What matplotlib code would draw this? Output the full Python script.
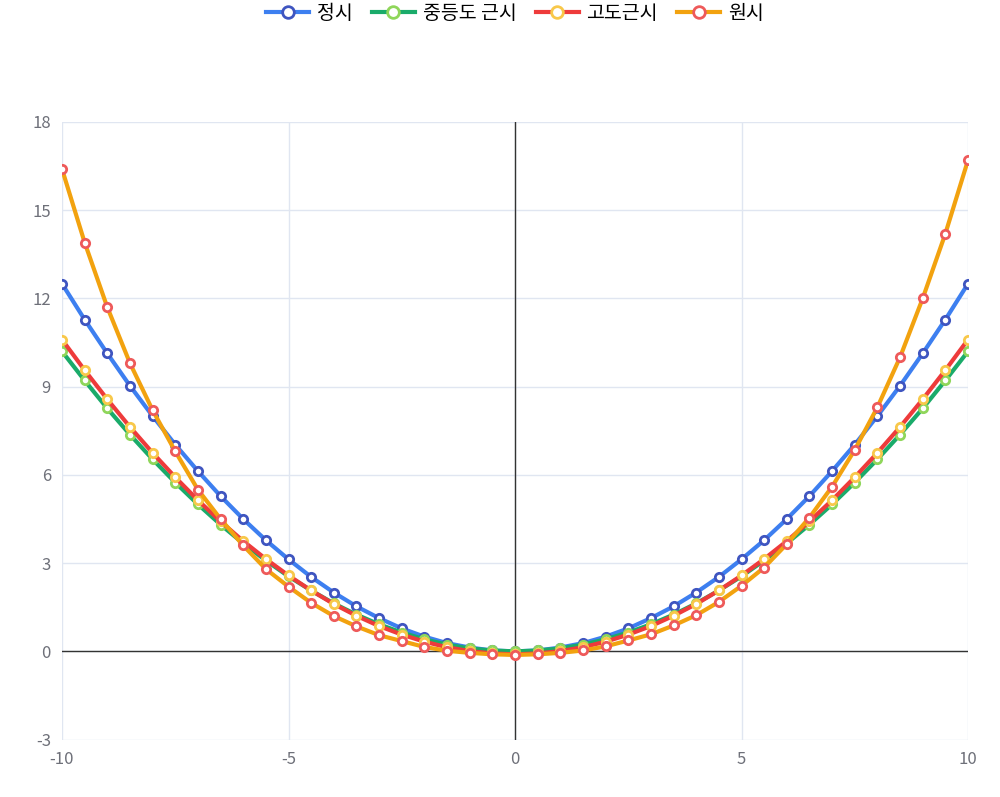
import matplotlib
matplotlib.use("Agg")
import matplotlib.pyplot as plt
import numpy as np

plt.rcParams['font.family'] = ['Noto Sans CJK KR', 'DejaVu Sans']
plt.rcParams['axes.unicode_minus'] = False

x = np.arange(-10, 10.01, 0.5)

half_normal = [0, 0.03, 0.13, 0.28, 0.5, 0.78, 1.13, 1.53, 2.0, 2.53, 3.13,
               3.78, 4.5, 5.28, 6.13, 7.03, 8.0, 9.03, 10.13, 11.28, 12.5]
half_moderate = [0, 0.03, 0.1, 0.23, 0.41, 0.64, 0.92, 1.25, 1.63, 2.07, 2.55,
                 3.09, 3.67, 4.31, 5.0, 5.74, 6.53, 7.37, 8.26, 9.21, 10.2]
half_high = [-0.1, -0.07, 0.01, 0.14, 0.33, 0.57, 0.86, 1.21, 1.61, 2.07, 2.58,
             3.14, 3.75, 4.42, 5.14, 5.92, 6.75, 7.63, 8.57, 9.56, 10.6]
normal = half_normal[:0:-1] + half_normal
moderate = half_moderate[:0:-1] + half_moderate
high = half_high[:0:-1] + half_high
hyper = [16.4, 13.9, 11.7, 9.8, 8.2, 6.8, 5.5, 4.5, 3.6, 2.8, 2.2, 1.65, 1.2,
         0.85, 0.55, 0.35, 0.15, 0.02, -0.05, -0.1, -0.12,
         -0.1, -0.05, 0.03, 0.17, 0.37, 0.58, 0.88, 1.23, 1.68, 2.23, 2.85,
         3.65, 4.55, 5.6, 6.85, 8.3, 10.0, 12.0, 14.2, 16.7]

series = [
    ("정시", normal, "#3d7ff0", "#3f55c0"),
    ("중등도 근시", moderate, "#1aab6a", "#8fd65a"),
    ("고도근시", high, "#ee3b3b", "#f8c84a"),
    ("원시", hyper, "#f2a20f", "#ee5a5a"),
]

fig = plt.figure(figsize=(10, 7.97), dpi=100)
ax = fig.add_axes([0.062, 0.072, 0.906, 0.775])

for name, vals, lc, mc in series:
    ax.plot(x, vals, color=lc, lw=3, marker='o', ms=6, mfc='white',
            mec=mc, mew=2, label=name)

ax.set_xlim(-10, 10)
ax.set_ylim(-3, 18)
ax.set_xticks([-10, -5, 0, 5, 10])
ax.set_yticks(range(-3, 19, 3))
ax.grid(True, color='#e0e6f1', lw=1)
ax.set_axisbelow(True)
for s in ax.spines.values():
    s.set_visible(False)
ax.axhline(0, color='#333333', lw=1, zorder=1)
ax.axvline(0, color='#333333', lw=1, zorder=1)
ax.tick_params(length=0, colors='#6e7079', labelsize=12, pad=8)

leg = ax.legend(loc='lower center', bbox_to_anchor=(0.5, 1.13), ncol=4,
                frameon=False, fontsize=14, handlelength=2.2,
                columnspacing=1.0, handletextpad=0.4, markerscale=1.4)

fig.savefig("out.png")
